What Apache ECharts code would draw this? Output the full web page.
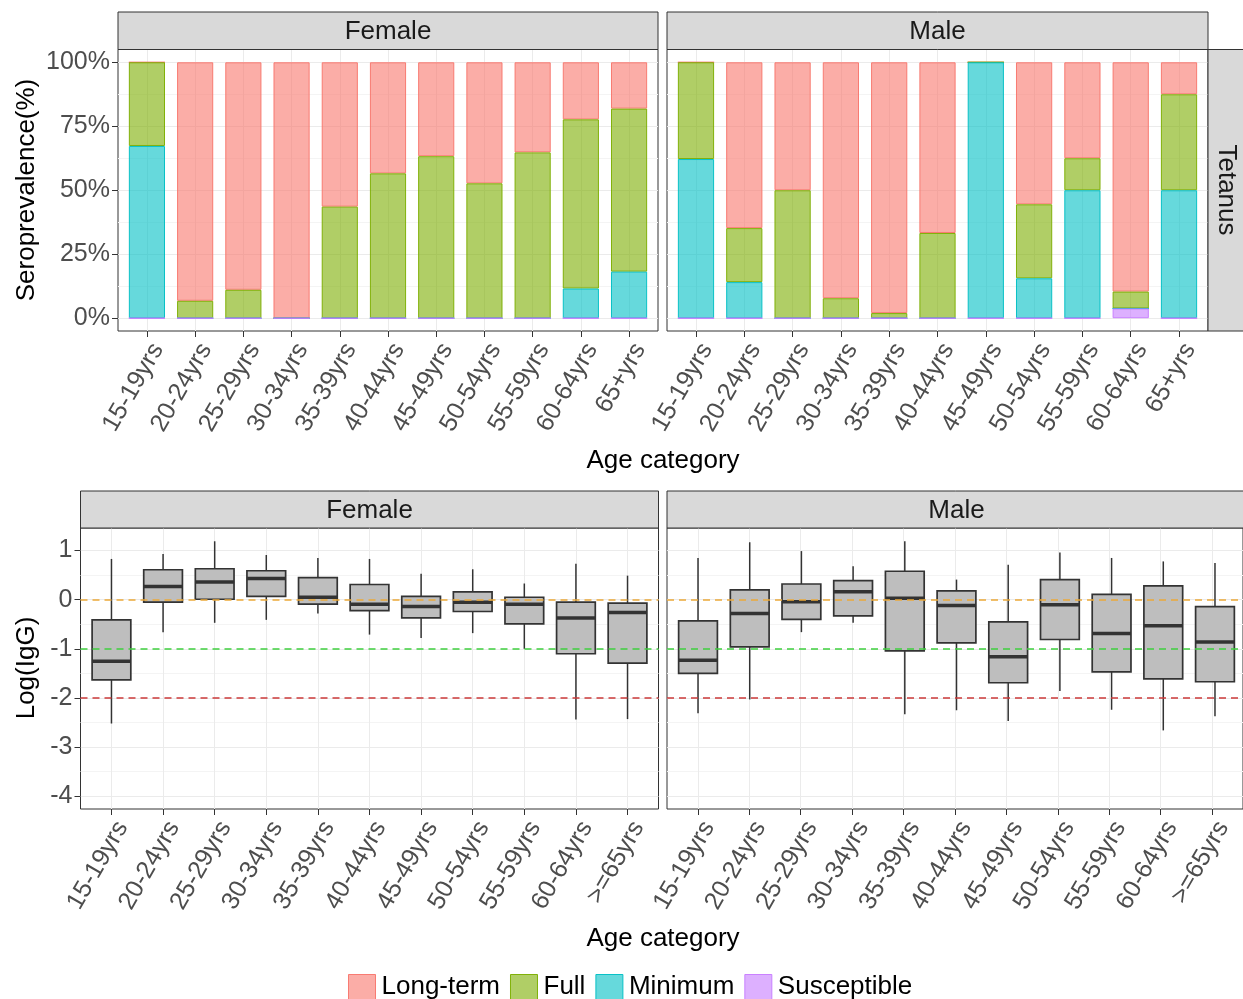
<!DOCTYPE html>
<html>
<head>
<meta charset="utf-8">
<script src="https://cdn.jsdelivr.net/npm/echarts@6/dist/echarts.min.js"></script>
<style>
  html, body { margin: 0; padding: 0; background: #ffffff; }
  #chart { width: 1243px; height: 999px; }
</style>
</head>
<body>
<div id="chart"></div>
<script>
// ---------- data ----------
const barAges = ['15-19yrs', '20-24yrs', '25-29yrs', '30-34yrs', '35-39yrs', '40-44yrs',
                 '45-49yrs', '50-54yrs', '55-59yrs', '60-64yrs', '65+yrs'];
const boxAges = ['15-19yrs', '20-24yrs', '25-29yrs', '30-34yrs', '35-39yrs', '40-44yrs',
                 '45-49yrs', '50-54yrs', '55-59yrs', '60-64yrs', '>=65yrs'];

// Seroprevalence (%) of each protection level, stacked bottom to top
const levels = ['Susceptible', 'Minimum', 'Full', 'Long-term'];
const legendOrder = ['Long-term', 'Full', 'Minimum', 'Susceptible'];

const femaleSusceptible = [0, 0, 0, 0, 0, 0, 0, 0, 0, 0, 0];
const femaleMinimum     = [67.3, 0, 0, 0, 0, 0, 0, 0, 0, 11.6, 18.2];
const femaleFull        = [32.7, 6.8, 11.1, 0, 43.6, 56.6, 63.3, 52.7, 64.8, 66.1, 63.7];
const femaleLongTerm    = [0, 93.2, 88.9, 100, 56.4, 43.4, 36.7, 47.3, 35.2, 22.3, 18.1];

const maleSusceptible = [0, 0, 0, 0, 0, 0, 0, 0, 0, 3.8, 0];
const maleMinimum     = [62.2, 14.1, 0, 0, 0, 0, 100, 15.6, 50, 0, 50];
const maleFull        = [37.8, 21.1, 50, 7.8, 2.0, 33.3, 0, 28.9, 12.5, 6.6, 37.5];
const maleLongTerm    = [0, 64.8, 50, 92.2, 98.0, 66.7, 0, 55.5, 37.5, 89.6, 12.5];

// Log(IgG) five-number summaries per age group: [lower whisker, Q1, median, Q3, upper whisker]
const femaleIgG = [
  [-2.52, -1.63, -1.25, -0.41, 0.83],
  [-0.66, -0.05, 0.27, 0.61, 0.93],
  [-0.47, 0.01, 0.36, 0.63, 1.19],
  [-0.41, 0.07, 0.43, 0.59, 0.91],
  [-0.28, -0.09, 0.05, 0.45, 0.85],
  [-0.71, -0.22, -0.09, 0.31, 0.83],
  [-0.78, -0.37, -0.14, 0.07, 0.53],
  [-0.68, -0.24, -0.05, 0.16, 0.62],
  [-1.00, -0.49, -0.09, 0.05, 0.33],
  [-2.44, -1.10, -0.37, -0.05, 0.73],
  [-2.43, -1.29, -0.26, -0.07, 0.49]
];
const maleIgG = [
  [-2.31, -1.50, -1.23, -0.43, 0.85],
  [-2.03, -0.96, -0.28, 0.20, 1.17],
  [-0.66, -0.40, -0.04, 0.32, 0.99],
  [-0.47, -0.33, 0.16, 0.39, 0.68],
  [-2.33, -1.04, 0.03, 0.58, 1.19],
  [-2.25, -0.88, -0.12, 0.18, 0.41],
  [-2.47, -1.69, -1.16, -0.45, 0.71],
  [-1.86, -0.81, -0.10, 0.41, 0.96],
  [-2.24, -1.47, -0.69, 0.11, 0.85],
  [-2.66, -1.61, -0.53, 0.28, 0.78],
  [-2.37, -1.67, -0.86, -0.14, 0.75]
];

// Reference levels drawn as dashed lines on the Log(IgG) panels
const igGThresholds = [0, -1, -2];
const thresholdColors = ['#EBA93A', '#3FCF3F', '#CC3A3A'];

const pctTicks = [0, 25, 50, 75, 100];
const pctMinorTicks = [12.5, 37.5, 62.5, 87.5];
const logTicks = [-4, -3, -2, -1, 0, 1];
const logMinorTicks = [-3.5, -2.5, -1.5, -0.5, 0.5];

// ---------- styling ----------
const FONT = "'Liberation Sans', Arial, sans-serif";
const levelColors = {
  'Long-term':   [248, 118, 109],
  'Full':        [124, 174, 0],
  'Minimum':     [0, 191, 196],
  'Susceptible': [199, 124, 255]
};
// drawing order: later levels in the legend are painted on top
const levelZ = { 'Long-term': 3, 'Full': 4, 'Minimum': 5, 'Susceptible': 6 };
const rgba = (c, a) => `rgba(${c[0]},${c[1]},${c[2]},${a})`;

const grids = [], xAxes = [], yAxes = [], series = [];
const catIdx = barAges.map((_, i) => i);

// One facet: a frame grid carrying border, gridlines, ticks and labels,
// and an inner data grid spanning the discrete expansion (0.6 units each side).
function facet(opt) {
  const W = opt.width;
  const unit = W / 11.2;
  const fg = grids.length;
  grids.push({ left: opt.left, top: opt.top, width: W, height: opt.height,
               show: true, borderColor: '#333333', borderWidth: 1, backgroundColor: 'transparent' });
  const dg = grids.length;
  grids.push({ left: opt.left + 0.1 * unit, top: opt.top, width: unit * 11, height: opt.height });

  const fx = xAxes.length;
  xAxes.push({
    gridIndex: fg, type: 'value', min: -0.6, max: 10.6, position: 'bottom',
    axisLine: { show: false, onZero: false },
    axisTick: { show: true, length: 6, customValues: catIdx, lineStyle: { color: '#333333', width: 1 } },
    axisLabel: { show: true, customValues: catIdx, rotate: 60, margin: 8,
                 align: 'right', verticalAlign: 'top',
                 fontSize: 25, fontFamily: FONT, color: '#4D4D4D',
                 formatter: v => opt.cats[Math.round(v)] },
    splitLine: { show: true, lineStyle: { color: '#EBEBEB', width: 1 } }
  });
  const dx = xAxes.length;
  xAxes.push({ gridIndex: dg, type: 'category', data: opt.cats, show: false });

  const fy = yAxes.length;
  yAxes.push({
    gridIndex: fg, type: 'value', min: opt.ymin, max: opt.ymax, position: 'left',
    axisLine: { show: false, onZero: false },
    axisTick: { show: opt.yLabels, length: 6, customValues: opt.ticks, lineStyle: { color: '#333333', width: 1 } },
    axisLabel: { show: opt.yLabels, customValues: opt.ticks, margin: 8,
                 fontSize: 25, fontFamily: FONT, color: '#4D4D4D', formatter: opt.fmt },
    splitLine: { show: true, lineStyle: { color: '#EBEBEB', width: 1 } }
  });
  yAxes.push({
    gridIndex: fg, type: 'value', min: opt.ymin, max: opt.ymax, position: 'left',
    axisLine: { show: false, onZero: false },
    axisTick: { show: false, customValues: opt.minor },
    axisLabel: { show: false },
    splitLine: { show: true, lineStyle: { color: '#F4F4F4', width: 1 } }
  });
  const dy = yAxes.length;
  yAxes.push({ gridIndex: dg, type: 'value', min: opt.ymin, max: opt.ymax, show: false });
  return { fx, fy, dx, dy };
}

function barFacet(left, width, values) {
  const f = facet({ left, top: 49.5, width, height: 281.5, cats: barAges,
                    ymin: -5, ymax: 105, ticks: pctTicks, minor: pctMinorTicks,
                    yLabels: left < 200, fmt: v => v + '%' });
  levels.forEach(name => {
    const c = levelColors[name];
    series.push({
      type: 'bar', name, stack: 'level' + f.dx, xAxisIndex: f.dx, yAxisIndex: f.dy,
      barWidth: '75%', z: levelZ[name],
      itemStyle: { color: rgba(c, 0.6), borderColor: rgba(c, 0.95), borderWidth: 1 },
      emphasis: { disabled: true },
      data: values[name]
    });
  });
}

function renderBox(params, api) {
  const i = api.value(0);
  const pLo = api.coord([i, api.value(1)]);
  const pQ1 = api.coord([i, api.value(2)]);
  const pMed = api.coord([i, api.value(3)]);
  const pQ3 = api.coord([i, api.value(4)]);
  const pHi = api.coord([i, api.value(5)]);
  const w = api.size([1, 0])[0] * 0.75;
  const x = pQ1[0];
  const stroke = '#333333';
  return {
    type: 'group',
    children: [
      { type: 'line', shape: { x1: x, y1: pHi[1], x2: x, y2: pQ3[1] }, style: { stroke, lineWidth: 1.5 } },
      { type: 'line', shape: { x1: x, y1: pQ1[1], x2: x, y2: pLo[1] }, style: { stroke, lineWidth: 1.5 } },
      { type: 'rect', shape: { x: x - w / 2, y: pQ3[1], width: w, height: pQ1[1] - pQ3[1] },
        style: { fill: '#BEBEBE', stroke, lineWidth: 1.7 } },
      { type: 'line', shape: { x1: x - w / 2, y1: pMed[1], x2: x + w / 2, y2: pMed[1] },
        style: { stroke, lineWidth: 3.5 } }
    ]
  };
}

function boxFacet(left, width, stats) {
  const f = facet({ left, top: 528, width, height: 281, cats: boxAges,
                    ymin: -4.26, ymax: 1.46, ticks: logTicks, minor: logMinorTicks,
                    yLabels: left < 200, fmt: v => String(v) });
  series.push({
    type: 'custom', xAxisIndex: f.dx, yAxisIndex: f.dy, z: 3,
    renderItem: renderBox,
    encode: { x: 0, y: [1, 2, 3, 4, 5] },
    data: stats.map((s, i) => [i].concat(s))
  });
  series.push({
    type: 'line', xAxisIndex: f.fx, yAxisIndex: f.fy, data: [], z: 8,
    markLine: {
      silent: true, symbol: 'none', label: { show: false },
      data: igGThresholds.map((v, k) => ({
        yAxis: v, lineStyle: { color: thresholdColors[k], type: [7, 5], width: 1.6 }
      }))
    }
  });
}

barFacet(118, 540, { 'Susceptible': femaleSusceptible, 'Minimum': femaleMinimum,
                     'Full': femaleFull, 'Long-term': femaleLongTerm });
barFacet(667, 541, { 'Susceptible': maleSusceptible, 'Minimum': maleMinimum,
                     'Full': maleFull, 'Long-term': maleLongTerm });
boxFacet(80.5, 578, femaleIgG);
boxFacet(667, 579, maleIgG);

// ---------- strips and titles ----------
const strip = (x, y, w, h) => ({
  type: 'rect', shape: { x, y, width: w, height: h }, z: 10,
  style: { fill: '#D9D9D9', stroke: '#333333', lineWidth: 1 }
});
const label = (text, x, y, size, color, rotation) => ({
  type: 'text', x, y, rotation: rotation || 0, z: 11,
  style: { text, align: 'center', verticalAlign: 'middle', fontSize: size,
           fontFamily: FONT, fill: color }
});

const graphics = [
  strip(118, 12, 540, 37.5), label('Female', 388, 32, 26, '#1A1A1A'),
  strip(667, 12, 541, 37.5), label('Male', 937.5, 32, 26, '#1A1A1A'),
  strip(1208, 49.5, 40, 281.5), label('Tetanus', 1226, 190, 26, '#1A1A1A', -Math.PI / 2),
  strip(80.5, 491, 578, 37), label('Female', 369.5, 511, 26, '#1A1A1A'),
  strip(667, 491, 590, 37), label('Male', 956.5, 511, 26, '#1A1A1A'),
  label('Seroprevalence(%)', 27, 190, 26, '#000000', Math.PI / 2),
  label('Log(IgG)', 27, 668, 26, '#000000', Math.PI / 2),
  label('Age category', 663, 461, 26, '#000000'),
  label('Age category', 663, 939, 26, '#000000')
];

const chart = echarts.init(document.getElementById('chart'), null, { renderer: 'canvas' });
chart.setOption({
  animation: false,
  backgroundColor: '#ffffff',
  textStyle: { fontFamily: FONT },
  grid: grids,
  xAxis: xAxes,
  yAxis: yAxes,
  legend: {
    data: legendOrder, left: 343, top: 969, icon: 'rect',
    itemWidth: 27, itemHeight: 25, itemGap: 10,
    itemStyle: { borderWidth: 1 },
    selectedMode: false,
    textStyle: { fontSize: 26, color: '#000000', fontFamily: FONT, padding: [0, 0, 0, 1] }
  },
  graphic: graphics,
  series
});
</script>
</body>
</html>
